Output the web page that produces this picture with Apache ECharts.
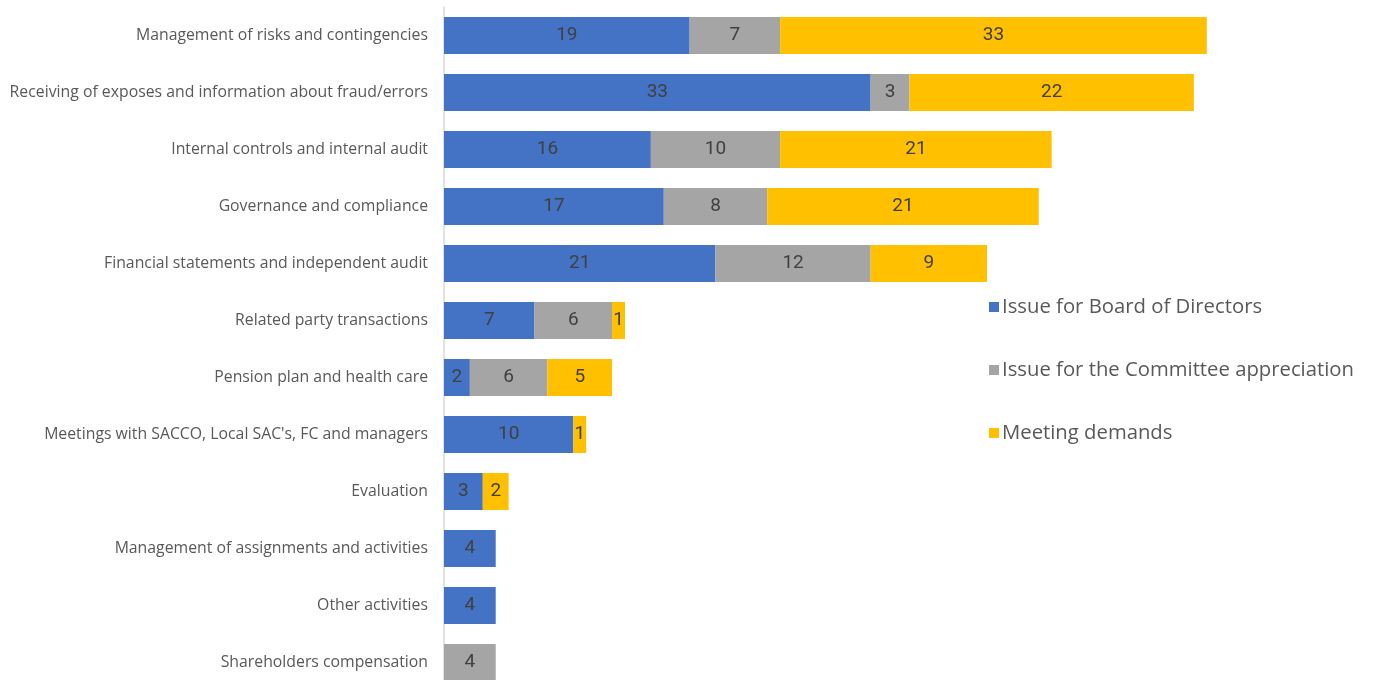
<!DOCTYPE html>
<html>
<head>
<meta charset="utf-8">
<script src="https://cdn.jsdelivr.net/npm/echarts@6/dist/echarts.min.js"></script>
<style>
  html, body { margin: 0; padding: 0; background: #fff; }
  #chart { width: 1373px; height: 680px; }
</style>
</head>
<body>
<div id="chart"></div>
<script>
const categories = [
  "Management of risks and contingencies",
  "Receiving of exposes and information about fraud/errors",
  "Internal controls and internal audit",
  "Governance and compliance",
  "Financial statements and independent audit",
  "Related party transactions",
  "Pension plan and health care",
  "Meetings with SACCO, Local SAC's, FC and managers",
  "Evaluation",
  "Management of assignments and activities",
  "Other activities",
  "Shareholders compensation"
];
const board = [19, 33, 16, 17, 21, 7, 2, 10, 3, 4, 4, null];
const committee = [7, 3, 10, 8, 12, 6, 6, null, null, null, null, 4];
const meeting = [33, 22, 21, 21, 9, 1, 5, 1, 2, null, null, null];

const chart = echarts.init(document.getElementById("chart"), null, { renderer: "canvas" });

const labelStyle = { show: true, position: "inside", color: "#404040", fontSize: 19, fontFamily: "Roboto" };

function bar(name, data, color) {
  return {
    name, type: "bar", stack: "total", data, barWidth: 37,
    itemStyle: { color },
    label: labelStyle
  };
}

chart.setOption({
  animation: false,
  textStyle: { fontFamily: "Roboto" },
  grid: { left: 444, right: 24, top: 7, bottom: -11, outerBoundsMode: "none" },
  xAxis: { type: "value", min: 0, max: 70, show: false },
  yAxis: {
    type: "category", data: categories, inverse: true,
    axisLine: { lineStyle: { color: "#d9d9d9", width: 1.5 } },
    axisTick: { show: false },
    axisLabel: { color: "#595959", fontSize: 15.8, fontFamily: "Open Sans", margin: 16 }
  },
  legend: {
    orient: "vertical", left: 984, top: 292,
    icon: "rect", itemWidth: 10, itemHeight: 10, itemGap: 43,
    textStyle: { color: "#595959", fontSize: 20.3, fontFamily: "Open Sans", lineHeight: 20, padding: [0, 0, 0, -2] },
    data: ["Issue for Board of Directors", "Issue for the Committee appreciation", "Meeting demands"]
  },
  series: [
    bar("Issue for Board of Directors", board, "#4472C4"),
    bar("Issue for the Committee appreciation", committee, "#A5A5A5"),
    bar("Meeting demands", meeting, "#FFC000")
  ]
});
</script>
</body>
</html>
